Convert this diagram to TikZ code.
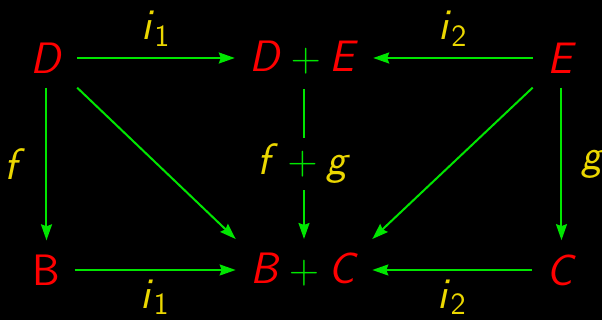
\documentclass[tikz,border=0pt]{standalone}
\usepackage{amsmath}
\usetikzlibrary{arrows.meta}
\definecolor{objred}{RGB}{255,0,0}
\definecolor{arrgreen}{RGB}{0,230,0}
\definecolor{labyellow}{RGB}{235,215,0}
\newcommand{\sv}[1]{\textsf{\textit{#1}}}
\newcommand{\pl}{\mathbin{\textcolor{arrgreen}{+}}}
\tikzset{
  obj/.style={text=objred, inner sep=7pt, font=\fontsize{22}{26}\selectfont},
  lab/.style={text=labyellow, font=\fontsize{22}{26}\selectfont},
  arr/.style={draw=arrgreen, line width=1pt, -{Stealth[length=8pt, width=5.5pt, inset=1pt]}}
}
\begin{document}
\begin{tikzpicture}[x=0.5pt, y=-0.5pt]
  \fill[black] (0,0) rectangle (602,320);
  \useasboundingbox (0,0) rectangle (602,320);
  % objects
  \node[obj] (D)  at (46.5,58)  {$\sv{D}$};
  \node[obj] (DE) at (304,58) {$\sv{D} \pl \sv{E}$};
  \node[obj] (E)  at (561.5,58) {$\sv{E}$};
  \node[obj] (B)  at (46.5,270) {$\textsf{B}$};
  \node[obj] (BC) at (304,270) {$\sv{B} \pl \sv{C}$};
  \node[obj] (C)  at (561.5,270) {$\sv{C}$};
  % injections
  \draw[arr] (D) -- node[lab, above=2pt] {$\sv{i}_{\textsf{1}}$} (DE);
  \draw[arr] (E) -- node[lab, above=2pt] {$\sv{i}_{\textsf{2}}$} (DE);
  \draw[arr] (B) -- node[lab, below=1pt] {$\sv{i}_{\textsf{1}}$} (BC);
  \draw[arr] (C) -- node[lab, below=1pt] {$\sv{i}_{\textsf{2}}$} (BC);
  % maps down
  \draw[arr] (D) -- node[lab, left=7pt] {$\sv{f}$} (B);
  \draw[arr] (E) -- node[lab, right=6pt] {$\sv{g}$} (C);
  \draw[arr] (DE) -- node[lab, fill=black, inner sep=3pt] {$\sv{f} \pl \sv{g}$} (BC);
  % diagonals
  \draw[arr] (D.south east) -- (BC.north west);
  \draw[arr] (E.south west) -- (BC.north east);
\end{tikzpicture}
\end{document}
